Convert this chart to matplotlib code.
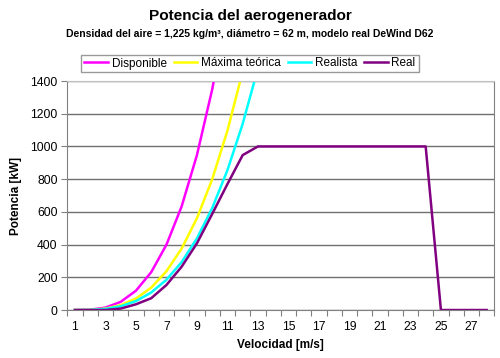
import matplotlib.pyplot as plt
import numpy as np

plt.rcParams['font.family'] = ['Liberation Sans', 'DejaVu Sans']

# categories on the x axis (Excel style category axis)
velocidad = list(range(1, 29))

# values (kW); theoretical curves leave the chart early
disponible = [0, 1.8, 14.8, 49.9, 118, 231, 399, 634, 947, 1348, 1849, 2461, 3195, 4062]
maxima = [0, 1.1, 8.8, 29.6, 70.1, 137, 237, 376, 561, 799, 1096, 1459, 1894, 2408]
realista = [0, 0.9, 6.8, 23.1, 54.7, 107, 185, 293, 438, 623, 855, 1138, 1477, 1878]
real = [0, 0, 0, 9, 35, 72, 153, 265, 408, 587, 770, 947, 1000, 1000, 1000, 1000,
        1000, 1000, 1000, 1000, 1000, 1000, 1000, 1000, 0, 0, 0, 0]

fig = plt.figure(figsize=(5, 3.58), dpi=100)
ax = fig.add_axes([0.1346, 0.134, 0.854, 0.6397])

ax.plot(velocidad[:len(disponible)], disponible, color="#FF00FF", lw=1.8, label="Disponible")
ax.plot(velocidad[:len(maxima)], maxima, color="#FFFF00", lw=1.8, label="Máxima teórica")
ax.plot(velocidad[:len(realista)], realista, color="#00FFFF", lw=1.8, label="Realista")
ax.plot(velocidad, real, color="#800080", lw=1.8, label="Real")

ax.set_xlim(0.5, 28.5)
ax.set_ylim(0, 1400)
ax.set_yticks(np.arange(0, 1401, 200))
ax.yaxis.grid(True, color="#707070", lw=1)
ax.set_axisbelow(True)

# ticks between categories, labels on odd categories
ax.set_xticks(np.arange(0.5, 29, 1))
ax.set_xticklabels([])
ax.set_xticks(velocidad[::2], minor=True)
ax.set_xticklabels([str(v) for v in velocidad[::2]], minor=True, fontsize=8.7)
ax.tick_params(axis="x", which="major", length=4, color="#808080", direction="out")
ax.tick_params(axis="x", which="minor", length=0, pad=8)
ax.tick_params(axis="y", length=4, color="#808080", labelsize=8.7, pad=3)

for s in ["left", "bottom", "right"]:
    ax.spines[s].set_color("#808080")
ax.spines["top"].set_color("#c0c0c0")

ax.set_xlabel("Velocidad [m/s]", fontsize=8.5, fontweight="bold", labelpad=4)
ax.set_ylabel("Potencia [kW]", fontsize=8.5, fontweight="bold", labelpad=6)

fig.text(0.5, 1 - 16 / 358, "Potencia del aerogenerador", ha="center", va="center",
         fontsize=11.1, fontweight="bold")
fig.text(0.5, 1 - 34 / 358, "Densidad del aire = 1,225 kg/m³, diámetro = 62 m, modelo real DeWind D62",
         ha="center", va="center", fontsize=7.5, fontweight="bold")

leg = fig.legend(loc="center", bbox_to_anchor=(0.5, 1 - 63.5 / 358), ncol=4, fontsize=8.5,
                 frameon=True, fancybox=False, edgecolor="#808080", handlelength=2.0,
                 handletextpad=0.3, columnspacing=0.6, borderpad=0.25)
leg.get_frame().set_linewidth(1)

fig.savefig("out.png", dpi=100)
